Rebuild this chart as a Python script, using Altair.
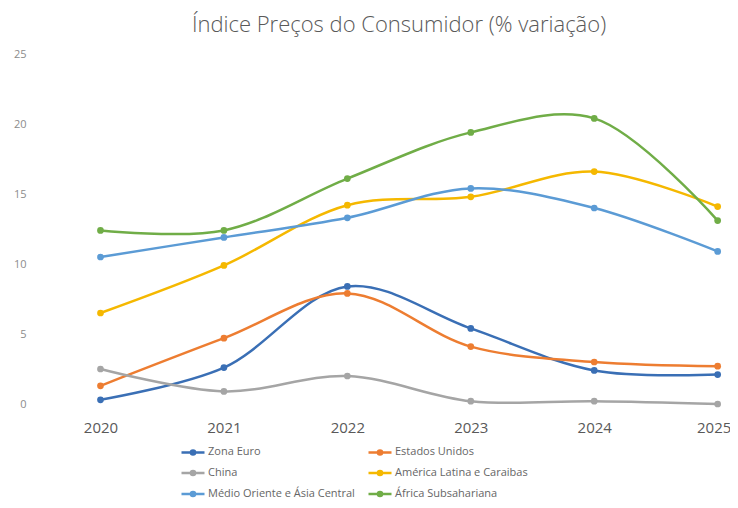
import altair as alt
import pandas as pd

years = [2020, 2021, 2022, 2023, 2024, 2025]
series = ["Zona Euro", "Estados Unidos", "China", "América Latina e Caraibas",
          "Médio Oriente e Ásia Central", "África Subsahariana"]
zona_euro = [0.3, 2.6, 8.4, 5.4, 2.4, 2.1]
estados_unidos = [1.3, 4.7, 7.9, 4.1, 3.0, 2.7]
china = [2.5, 0.9, 2.0, 0.2, 0.2, 0.0]
america_latina = [6.5, 9.9, 14.2, 14.8, 16.6, 14.1]
medio_oriente = [10.5, 11.9, 13.3, 15.4, 14.0, 10.9]
africa = [12.4, 12.4, 16.1, 19.4, 20.4, 13.1]
colors = ["#3a6fb5", "#ed7d31", "#a5a5a5", "#f5b800", "#5b9bd5", "#70ad47"]

values = [zona_euro, estados_unidos, china, america_latina, medio_oriente, africa]
rows = []
for name, vals in zip(series, values):
    for y, v in zip(years, vals):
        rows.append({"Ano": y, "Série": name, "Valor": v})
df = pd.DataFrame(rows)

color = alt.Color("Série:N", scale=alt.Scale(domain=series, range=colors),
                  legend=alt.Legend(
                      title=None, orient="none", legendX=140, legendY=385,
                      direction="horizontal",
                      columns=2, columnPadding=8, rowPadding=-5,
                      symbolType="M-1,0L1,0M-0.18,0a0.18,0.18 0 1,0 0.36,0a0.18,0.18 0 1,0 -0.36,0",
                      symbolSize=529, symbolStrokeWidth=2.5, symbolOffset=0,
                      labelFont="Open Sans", labelFontSize=11, labelColor="#666666",
                      labelOffset=2, labelLimit=300))

x = alt.X("Ano:Q", scale=alt.Scale(domain=[2019.51, 2025.1], nice=False, zero=False),
          axis=alt.Axis(title=None, values=years, format="d", grid=False, domain=False,
                        ticks=False, labelFont="Open Sans", labelFontSize=15,
                        labelColor="#595959", labelPadding=16,
                        labelOffset={"condition": {"test": "datum.value == 2025", "value": -4},
                                     "value": 0}))
y = alt.Y("Valor:Q", scale=alt.Scale(domain=[0, 25], nice=False),
          axis=alt.Axis(title=None, values=[0, 5, 10, 15, 20, 25], grid=False, domain=False,
                        ticks=False, labelFont="Open Sans", labelFontSize=11,
                        labelColor="#8c8c8c", labelPadding=14))

base = alt.Chart(df).encode(x=x, y=y, color=color, order=alt.Order("Ano:Q"))
lines = base.mark_line(interpolate="catmull-rom", strokeWidth=2.5)
points = base.mark_circle(size=45, opacity=1)

chart = alt.layer(lines, points).properties(
    width=690, height=350,
    title=alt.TitleParams("Índice Preços do Consumidor (% variação)", font="Open Sans",
                          fontSize=22, fontWeight=300, color="#595959", anchor="middle",
                          dx=14, offset=11),
    autosize=alt.AutoSizeParams(type="none"),
    padding={"left": 32, "top": 46, "right": 0, "bottom": 96},
).configure_view(stroke=None)

chart.save("out.html", embed_options={"renderer": "svg", "actions": False})
